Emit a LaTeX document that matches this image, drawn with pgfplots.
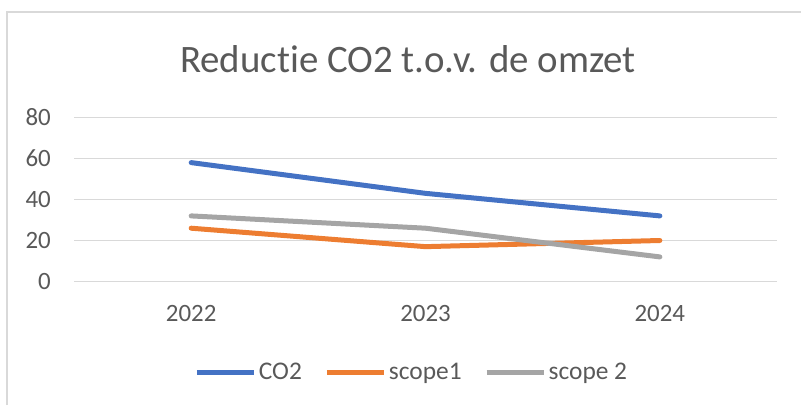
\documentclass[border=0pt]{standalone}
\usepackage{fontspec}
\setmainfont{Carlito}[Ligatures=NoCommon]
\usepackage{pgfplots}
\pgfplotsset{compat=1.18}

\definecolor{xlblue}{HTML}{4472C4}
\definecolor{xlorange}{HTML}{ED7D31}
\definecolor{xlgray}{HTML}{A5A5A5}
\definecolor{xlgrid}{HTML}{D9D9D9}
\definecolor{xltext}{HTML}{595959}

\begin{document}
\begin{tikzpicture}[x=1bp,y=1bp]
  \useasboundingbox (0,0) rectangle (801,405);
  % chart frame (only top and left visible)
  \draw[xlgrid, line width=1.2bp] (7,0) -- (7,393) -- (801,393);
  \node[text=xltext, font=\fontsize{39}{46}\selectfont] at (408,346) {Reductie CO2 t.o.v. de omzet};

  \begin{axis}[
      at={(74bp,123.5bp)}, anchor=south west,
      scale only axis,
      width=703bp, height=164bp,
      xmin=-0.5, xmax=2.5,
      ymin=0, ymax=80,
      xtick={0,1,2},
      xticklabels={2022,2023,2024},
      ytick={0,20,40,60,80},
      axis line style={draw=none},
      major tick length=0pt,
      ymajorgrids,
      grid style={xlgrid, line width=1bp},
      tick label style={text=xltext, font=\fontsize{25}{29}\selectfont, inner sep=0pt},
      /pgf/number format/assume math mode=true,
      yticklabel style={anchor=east, xshift=-23bp},
      xticklabel style={anchor=center, yshift=-31.5bp},
      legend style={at={(0.4808,-0.552)}, anchor=center, draw=none, fill=none,
        legend columns=3, font=\fontsize{25.5}{29}\selectfont, text=xltext,
        nodes={inner sep=2.5bp},
        /tikz/every even column/.append style={column sep=20bp}},
      legend image code/.code={\draw[#1, line cap=butt] (0bp,0bp) -- (57bp,0bp);},
      every axis plot/.append style={line width=5bp, line cap=round, line join=round, mark=none},
    ]
    \addplot[xlblue] coordinates {(0,58) (1,43) (2,32)};
    \addlegendentry{CO2}
    \addplot[xlorange] coordinates {(0,26) (1,17) (2,20)};
    \addlegendentry{scope1}
    \addplot[xlgray] coordinates {(0,32) (1,26) (2,12)};
    \addlegendentry{scope 2}
  \end{axis}
\end{tikzpicture}
\end{document}
